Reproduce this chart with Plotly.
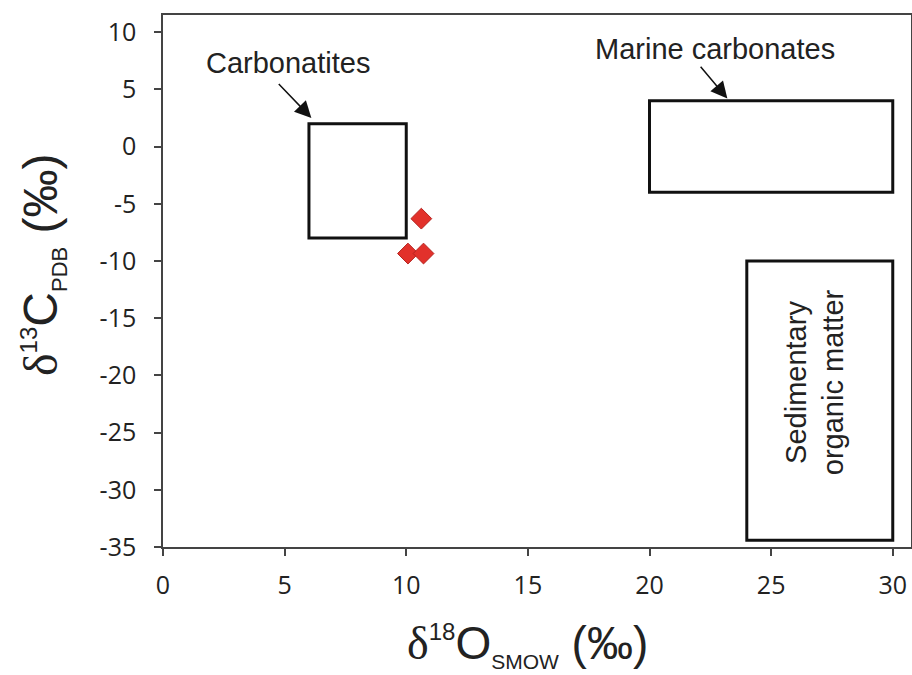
import plotly.graph_objects as go

# ---- data ----
sample_o18 = [10.62, 10.07, 10.71]
sample_c13 = [-6.3, -9.35, -9.35]

box_names = ["Carbonatites", "Marine carbonates", "Sedimentary organic matter"]
box_x0 = [6, 20, 24]
box_x1 = [10, 30, 30]
box_y0 = [-8, -4, -34.4]
box_y1 = [2, 4, -10]

x_ticks = [0, 5, 10, 15, 20, 25, 30]
x_tick_labels = ["0", "5", "10", "15", "20", "25", "30"]
y_ticks = [10, 5, 0, -5, -10, -15, -20, -25, -30, -35]
y_tick_labels = ["10", "5", "0", "-5", "-10", "-15", "-20", "-25", "-30", "-35"]

# label positions / arrows (data coordinates)
carb_label = (5.13, 7.3)
carb_arrow_tail = (4.7, 5.6)
carb_arrow_head = (6.1, 2.5)
marine_label = (22.68, 8.55)
marine_arrow_tail = (22.05, 7.1)
marine_arrow_head = (23.2, 4.2)
sed_label = (26.8, -20.6)

fig = go.Figure()

for i in range(len(box_names)):
    fig.add_shape(type="rect", xref="x", yref="y",
                  x0=box_x0[i], x1=box_x1[i], y0=box_y0[i], y1=box_y1[i],
                  line=dict(color="#111111", width=3), fillcolor="rgba(0,0,0,0)")

fig.add_trace(go.Scatter(
    x=sample_o18, y=sample_c13, mode="markers",
    marker=dict(symbol="diamond", size=16, color="#e2312b",
                line=dict(color="#b52420", width=1)),
    showlegend=False, hoverinfo="x+y"))

lab_font = dict(family="Liberation Sans, Arial, sans-serif", size=29, color="#222222")

fig.add_annotation(x=carb_label[0], y=carb_label[1], xref="x", yref="y",
                   text=box_names[0], showarrow=False, font=lab_font)
fig.add_annotation(x=carb_arrow_head[0], y=carb_arrow_head[1], ax=carb_arrow_tail[0], ay=carb_arrow_tail[1],
                   xref="x", yref="y", axref="x", ayref="y", text="", showarrow=True,
                   arrowhead=2, arrowsize=2.2, arrowwidth=1.5, arrowcolor="#111111")
fig.add_annotation(x=marine_label[0], y=marine_label[1], xref="x", yref="y",
                   text=box_names[1], showarrow=False, font=lab_font)
fig.add_annotation(x=marine_arrow_head[0], y=marine_arrow_head[1], ax=marine_arrow_tail[0], ay=marine_arrow_tail[1],
                   xref="x", yref="y", axref="x", ayref="y", text="", showarrow=True,
                   arrowhead=2, arrowsize=2.2, arrowwidth=1.5, arrowcolor="#111111")
fig.add_annotation(x=sed_label[0], y=sed_label[1], xref="x", yref="y",
                   text="Sedimentary<br>organic matter", showarrow=False, textangle=-90,
                   font=lab_font)

# axis titles
serif = "font-family:'Liberation Serif','Times New Roman',serif"
fig.add_annotation(
    x=0.487, y=0, xref="paper", yref="paper", yshift=-98, yanchor="middle",
    showarrow=False,
    font=dict(family="Liberation Sans, Arial, sans-serif", size=46, color="#222222"),
    text=f"<span style=\"{serif}\">δ</span><sup><span style=\"font-size:24px\">18</span></sup>O"
         "<sub><span style=\"font-size:21px\">SMOW</span></sub> (‰)")
fig.add_annotation(
    x=0, y=0.53, xref="paper", yref="paper", xshift=-120, xanchor="center", yanchor="middle",
    showarrow=False, textangle=-90,
    font=dict(family="Liberation Sans, Arial, sans-serif", size=48, color="#222222"),
    text=f"<span style=\"{serif}\">δ</span><sup><span style=\"font-size:24px\">13</span></sup>C"
         "<sub><span style=\"font-size:22px\">PDB</span></sub> (‰)")

axis_common = dict(showline=True, linecolor="#444444", linewidth=1.5, mirror=True,
                   ticks="outside", ticklen=7, tickcolor="#444444", tickwidth=1.5,
                   showgrid=False, zeroline=False,
                   tickfont=dict(family="Open Sans, sans-serif", size=25, color="#222222"))

fig.update_xaxes(range=[0, 30.75], tickvals=x_ticks, ticktext=x_tick_labels,
                 ticklabelstandoff=8, **axis_common)
fig.update_yaxes(range=[-35, 11.5], tickvals=y_ticks, ticktext=y_tick_labels,
                 ticklabelstandoff=13, **axis_common)

fig.update_layout(width=912, height=675, margin=dict(l=163, r=1, t=15, b=128, autoexpand=False),
                  plot_bgcolor="white", paper_bgcolor="white", showlegend=False)

fig.write_html("out.html", config={"displayModeBar": False},
               post_script="document.body.style.margin='0';")
